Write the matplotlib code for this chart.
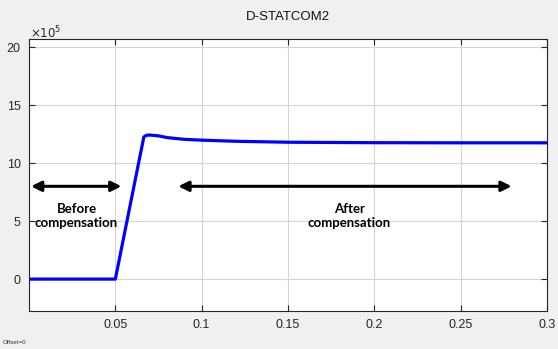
import matplotlib.pyplot as plt
from matplotlib.ticker import FuncFormatter

# Scope trace (time in s, value in raw units)
time_s = [0, 0.05, 0.0665, 0.068, 0.07, 0.075, 0.08, 0.09, 0.1, 0.12, 0.15, 0.2, 0.25, 0.3]
value = [0, 0, 12.25e5, 12.4e5, 12.42e5, 12.35e5, 12.2e5, 12.05e5, 11.98e5,
         11.88e5, 11.8e5, 11.76e5, 11.75e5, 11.75e5]

x_ticks = [0.05, 0.1, 0.15, 0.2, 0.25, 0.3]
y_ticks = [0, 5e5, 10e5, 15e5, 20e5]

# arrow spans: (start, end, level)
before_span = (0.0012, 0.0535, 8e5)
after_span = (0.0865, 0.2795, 8e5)

plt.rcParams['font.family'] = ['Liberation Sans', 'DejaVu Sans']

fig = plt.figure(figsize=(5.58, 3.49), dpi=100, facecolor='#f0f0f0')
ax = fig.add_axes([29 / 558, 1 - 311 / 349, 518 / 558, 272 / 349])
ax.set_facecolor('white')

ax.plot(time_s, value, color='#0000ff', linewidth=2.3, solid_joinstyle='round')

ax.set_xlim(0, 0.3)
ax.set_ylim(-2.75e5, 20.7e5)
ax.set_xticks(x_ticks)
ax.set_xticklabels([f'{t:g}' for t in x_ticks])
ax.set_yticks(y_ticks)
ax.yaxis.set_major_formatter(FuncFormatter(lambda v, p: f'{v / 1e5:g}'))
ax.grid(True, color='#d4d4d4', linewidth=0.8)
ax.tick_params(direction='in', top=True, right=True, labelsize=9,
               colors='#262626', length=4, pad=6)
for s in ax.spines.values():
    s.set_color('#262626')
    s.set_linewidth(0.8)

ax.set_title('D-STATCOM2', fontsize=9.5, pad=14, color='#111111')
fig.text(30 / 558, 1 - 33 / 349, r'$\times10^5$', fontsize=8.5, color='#262626',
         ha='left', va='center')
fig.text(3 / 558, 1 - 342 / 349, 'Offset=0', fontsize=4.5, color='#333333',
         va='center')

for x0, x1, yv in (before_span, after_span):
    ax.annotate('', xy=(x0, yv), xytext=(x1, yv),
                arrowprops=dict(arrowstyle='<|-|>', color='black', lw=2.2,
                                mutation_scale=15, shrinkA=0, shrinkB=0))

ax.text(0.0275, 5.4e5, 'Before\ncompensation', ha='center', va='center',
        fontsize=9.5, fontweight='bold', family=['Lato', 'DejaVu Sans'],
        linespacing=1.2)
ax.text(0.1855, 5.4e5, 'After\ncompensation', ha='center', va='center',
        fontsize=9.5, fontweight='bold', family=['Lato', 'DejaVu Sans'],
        linespacing=1.2)

fig.savefig('out.png', dpi=100, facecolor=fig.get_facecolor())
